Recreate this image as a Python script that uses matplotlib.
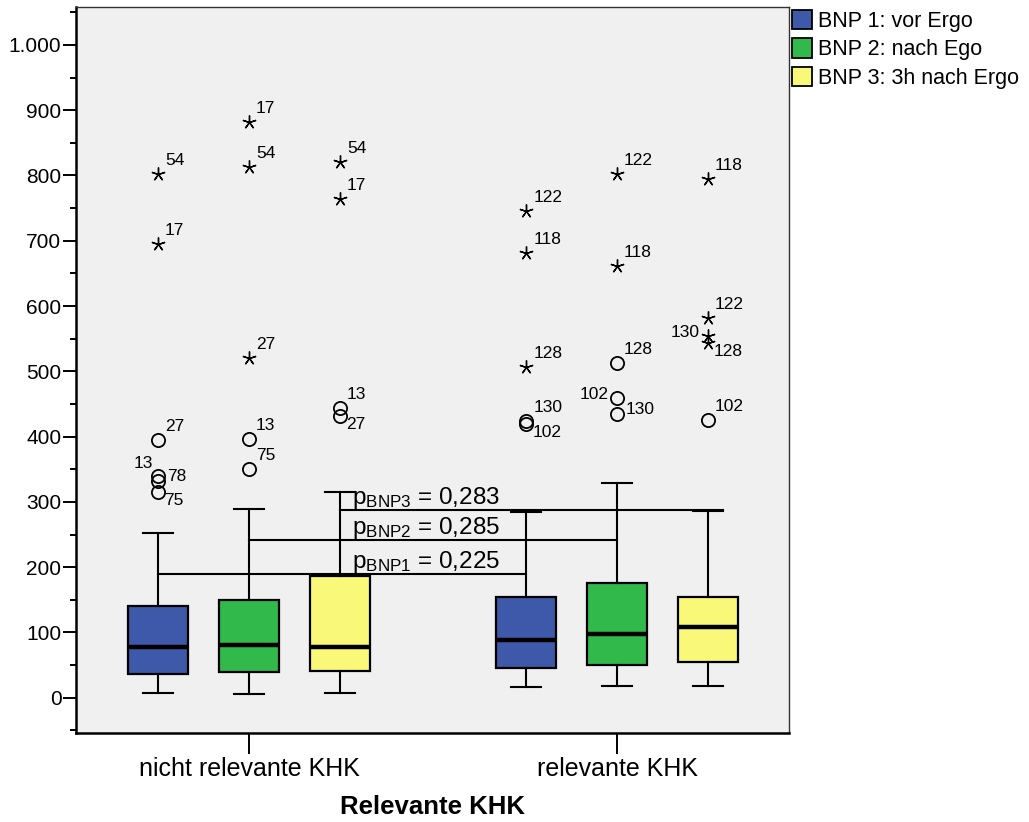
import matplotlib
matplotlib.use("Agg")
import matplotlib.pyplot as plt
from matplotlib import font_manager
from matplotlib.patches import Patch
from matplotlib.ticker import FixedLocator, FuncFormatter

# ---------------- data ----------------
categories = ['nicht relevante KHK', 'relevante KHK']
series = ['BNP 1: vor Ergo', 'BNP 2: nach Ego', 'BNP 3: 3h nach Ergo']
colors = ['#3E58AA', '#32B94B', '#FAF878']

whislo = [[8, 6, 8], [17, 18, 18]]
q1 = [[37, 40, 41], [46, 50, 54]]
med = [[77, 81, 78], [89, 98, 109]]
q3 = [[141, 150, 187], [155, 175, 155]]
whishi = [[253, 289, 315], [285, 329, 286]]

# outliers: group, series index, value, kind ('o' mild / '*' extreme), case label, label placement
out_group = [0, 0, 0, 0, 0, 0,   0, 0, 0, 0, 0,   0, 0, 0, 0,
             1, 1, 1, 1, 1,   1, 1, 1, 1, 1,   1, 1, 1, 1, 1]
out_series = [0, 0, 0, 0, 0, 0,   1, 1, 1, 1, 1,   2, 2, 2, 2,
              0, 0, 0, 0, 0,   1, 1, 1, 1, 1,   2, 2, 2, 2, 2]
out_value = [802, 695, 395, 340, 332, 315,   882, 813, 521, 397, 351,   821, 764, 444, 432,
             746, 681, 507, 424, 420,   802, 662, 513, 459, 435,   795, 582, 554, 544, 426]
out_kind = ['*', '*', 'o', 'o', 'o', 'o',   '*', '*', '*', 'o', 'o',   '*', '*', 'o', 'o',
            '*', '*', '*', 'o', 'o',   '*', '*', 'o', 'o', 'o',   '*', '*', '*', '*', 'o']
out_label = ['54', '17', '27', '13', '78', '75',   '17', '54', '27', '13', '75',   '54', '17', '13', '27',
             '122', '118', '128', '130', '102',   '122', '118', '128', '102', '130',
             '118', '122', '130', '128', '102']
out_pos = ['ur', 'ur', 'ur', 'ul', 'r', 'lr',   'ur', 'ur', 'ur', 'ur', 'ur',   'ur', 'ur', 'ur', 'lr',
           'ur', 'ur', 'ur', 'ur', 'lr',   'ur', 'ur', 'ur', 'l', 'r',   'ur', 'ur', 'l', 'lr', 'ur']

# p-value comparison lines: y value, from (group, series) to (group, series), text
p_texts = [r'p$_\mathrm{BNP1}$ = 0,225', r'p$_\mathrm{BNP2}$ = 0,285', r'p$_\mathrm{BNP3}$ = 0,283']
p_line_y = [190, 242, 288]
p_line_from = [(0, 0), (0, 1), (0, 2)]
p_line_to = [(1, 0), (1, 1), (1, 2)]

yticks = [0, 100, 200, 300, 400, 500, 600, 700, 800, 900, 1000]

# ---------------- style ----------------
def has_font(name):
    try:
        font_manager.findfont(font_manager.FontProperties(family=name), fallback_to_default=False)
        return True
    except Exception:
        return False

base = 'Liberation Sans' if has_font('Liberation Sans') else 'DejaVu Sans'

plt.rcParams['font.family'] = [base, 'DejaVu Sans']
plt.rcParams['mathtext.fontset'] = 'custom'
plt.rcParams['mathtext.rm'] = base
plt.rcParams['mathtext.it'] = base + ':italic'
plt.rcParams['mathtext.bf'] = base + ':bold'

fig = plt.figure(figsize=(10.29, 8.22), dpi=100)
fig.patch.set_facecolor('white')
ax = fig.add_axes([76 / 1029, 1 - 733 / 822, (789 - 76) / 1029, (733 - 7) / 822])
ax.set_facecolor('#F0F0F0')

offset = 0.247
width = 0.163

def pos(g, s):
    return g + (s - 1) * offset

stats, positions, fcs = [], [], []
for g in range(len(categories)):
    for s in range(len(series)):
        stats.append(dict(whislo=whislo[g][s], q1=q1[g][s], med=med[g][s],
                          q3=q3[g][s], whishi=whishi[g][s], fliers=[]))
        positions.append(pos(g, s))
        fcs.append(colors[s])

bp = ax.bxp(stats, positions=positions, widths=width, patch_artist=True,
            showfliers=False, manage_ticks=False,
            boxprops=dict(edgecolor='black', linewidth=1.6),
            medianprops=dict(color='black', linewidth=3.2, solid_capstyle='butt'),
            whiskerprops=dict(color='black', linewidth=1.5),
            capprops=dict(color='black', linewidth=1.5),
            capwidths=width * 0.5)
for patch, fc in zip(bp['boxes'], fcs):
    patch.set_facecolor(fc)
    patch.set_zorder(2)
for m in bp['medians']:
    m.set_zorder(3)

# p-value lines
for y, (g0, s0), (g1, s1), txt in zip(p_line_y, p_line_from, p_line_to, p_texts):
    x0 = pos(g0, s0)
    x1 = pos(g1, s1) + (0.04 if s1 == 2 else 0.0)
    ax.plot([x0, x1], [y, y], color='black', linewidth=1.5, zorder=4)
    ax.text(0.28, y + 9, txt, fontsize=17.5, ha='left', va='baseline', zorder=5)

# outliers
offs = {'ur': ((7, 9), 'left', 'baseline'),
        'r': ((9, 4), 'left', 'center'),
        'lr': ((6, -1), 'left', 'top'),
        'l': ((-8, 4), 'right', 'center'),
        'ul': ((-5, 8), 'right', 'baseline')}
for g, s, v, k, lab, p in zip(out_group, out_series, out_value, out_kind, out_label, out_pos):
    x = pos(g, s)
    if k == 'o':
        ax.plot([x], [v], marker='o', markersize=9.5, mfc='none', mec='black', mew=1.3,
                linestyle='none', zorder=6)
    else:
        ax.plot([x], [v], marker=(5, 2, 0), markersize=10, color='black', mew=1.0,
                linestyle='none', zorder=6)
    (dx, dy), ha, va = offs[p]
    ax.annotate(lab, (x, v), xytext=(dx, dy), textcoords='offset pixels',
                fontsize=12.5, ha=ha, va=va, zorder=7)

# axes
ax.set_xlim(-0.470, 1.467)
ax.set_ylim(-54, 1058)
ax.yaxis.set_major_locator(FixedLocator(yticks))
ax.yaxis.set_minor_locator(FixedLocator([v + 50 for v in range(-100, 1001, 100)]))
ax.yaxis.set_major_formatter(FuncFormatter(lambda v, p: f'{int(v):,}'.replace(',', '.')))
ax.set_xticks([0, 1])
ax.set_xticklabels(categories, fontsize=18)
ax.tick_params(axis='y', which='major', direction='out', length=9.5, width=1.4,
               labelsize=15, pad=1)
ax.tick_params(axis='y', which='minor', direction='out', length=4.5, width=1.4)
ax.tick_params(axis='x', which='major', direction='out', length=15, width=1.4, pad=2)
for side in ['left', 'bottom']:
    ax.spines[side].set_linewidth(1.8)
    ax.spines[side].set_color('black')
for side in ['top', 'right']:
    ax.spines[side].set_linewidth(1.0)
    ax.spines[side].set_color('#333333')

fig.text((76 + 789) / 2 / 1029, 1 - 819 / 822, 'Relevante KHK',
         fontweight='bold', fontsize=18.5, ha='center', va='bottom')

handles = [Patch(facecolor=c, edgecolor='black', linewidth=1.3) for c in colors]
fig.legend(handles, series, loc='upper left', bbox_to_anchor=(792 / 1029, 1 - 10 / 822),
           frameon=False, fontsize=15.5, handlelength=0.95, handleheight=1.0,
           handletextpad=0.25, labelspacing=0.3, borderpad=0.0, borderaxespad=0.0)

fig.savefig('out.png', dpi=100, facecolor='white')
